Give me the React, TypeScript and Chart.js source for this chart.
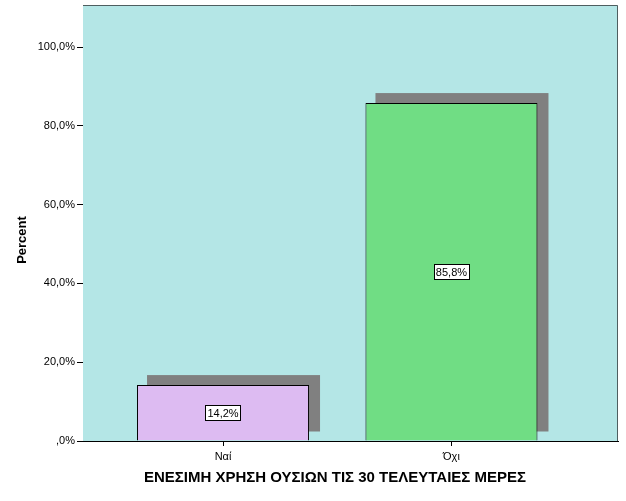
import { useEffect, useRef } from "react";
import { Chart, registerables } from "chart.js";

Chart.register(...registerables);

// --- data ---
const categories = ["Ναί", "Όχι"];
const percents = [14.2, 85.8];
const barColors = ["#DDBBF2", "#70DD84"];

const xTitle = "ΕΝΕΣΙΜΗ ΧΡΗΣΗ ΟΥΣΙΩΝ ΤΙΣ 30 ΤΕΛΕΥΤΑΙΕΣ ΜΕΡΕΣ";
const yTitle = "Percent";

const FONT = "'Liberation Sans', Arial, sans-serif";

const fmtPct = (v: number) =>
  v === 0 ? ",0%" : `${v.toFixed(1).replace(".", ",")}%`;

// background of plot area + shadows behind bars
const backdropPlugin = {
  id: "backdrop",
  beforeDatasetsDraw(chart: any) {
    const { ctx, chartArea } = chart;
    ctx.save();
    ctx.fillStyle = "#B4E6E6";
    ctx.fillRect(
      chartArea.left,
      chartArea.top,
      chartArea.right - chartArea.left,
      chartArea.bottom - chartArea.top
    );
    // shadow: bar rectangle shifted right and up
    ctx.fillStyle = "#808080";
    chart.getDatasetMeta(0).data.forEach((bar: any) => {
      const { x, y, base, width } = bar.getProps(["x", "y", "base", "width"], true);
      ctx.fillRect(x - width / 2 + 10, y - 10, width + 1, base - y + 1);
    });
    ctx.restore();
  },
  afterDatasetsDraw(chart: any) {
    const { ctx, chartArea } = chart;
    ctx.save();
    // top + right frame
    ctx.strokeStyle = "#4E5E60";
    ctx.lineWidth = 1;
    ctx.beginPath();
    ctx.moveTo(chartArea.left, chartArea.top + 0.5);
    ctx.lineTo(chartArea.right - 0.5, chartArea.top + 0.5);
    ctx.lineTo(chartArea.right - 0.5, chartArea.bottom);
    ctx.stroke();

    // boxed value labels in the middle of each bar
    ctx.font = `11px ${FONT}`;
    ctx.textAlign = "center";
    ctx.textBaseline = "middle";
    chart.getDatasetMeta(0).data.forEach((bar: any, i: number) => {
      const { x, y, base } = bar.getProps(["x", "y", "base"], true);
      const txt = fmtPct(percents[i]);
      const w = ctx.measureText(txt).width + 4;
      const h = 15;
      const cy = (y + base) / 2;
      ctx.fillStyle = "#FFFFFF";
      ctx.fillRect(Math.round(x - w / 2) + 0.5, Math.round(cy - h / 2) + 0.5, Math.round(w), h);
      ctx.strokeStyle = "#000000";
      ctx.strokeRect(Math.round(x - w / 2) + 0.5, Math.round(cy - h / 2) + 0.5, Math.round(w), h);
      ctx.fillStyle = "#000000";
      ctx.fillText(txt, x, cy + 1);
    });
    ctx.restore();
  },
  afterDraw(chart: any) {
    const { ctx } = chart;
    ctx.save();
    ctx.fillStyle = "#000000";
    ctx.textAlign = "center";
    ctx.textBaseline = "middle";
    ctx.font = `bold 15px ${FONT}`;
    ctx.fillText(xTitle, 335, 478);
    ctx.translate(22, 240);
    ctx.rotate(-Math.PI / 2);
    ctx.font = `bold 13px ${FONT}`;
    ctx.fillText(yTitle, 0, 0);
    ctx.restore();
  },
};

export default function App() {
  const canvasRef = useRef<HTMLCanvasElement | null>(null);

  useEffect(() => {
    document.body.style.margin = "0";
    const canvas = canvasRef.current;
    if (!canvas) return;

    const chart = new Chart(canvas, {
      type: "bar",
      data: {
        datasets: [
          {
            data: categories.map((_, i) => ({ x: i, y: percents[i] })) as any,
            backgroundColor: barColors,
            borderColor: "#000000",
            borderWidth: 1,
            categoryPercentage: 1,
            barPercentage: 0.753,
          },
        ],
      },
      options: {
        animation: false,
        responsive: true,
        maintainAspectRatio: false,
        layout: { padding: { top: 5, right: 8, left: 0, bottom: 0 } },
        plugins: {
          legend: { display: false },
          tooltip: { enabled: false },
        },
        scales: {
          x: {
            type: "linear",
            offset: false,
            min: -0.613,
            max: 1.729,
            afterBuildTicks: (scale: any) => {
              scale.ticks = categories.map((_, i) => ({ value: i }));
            },
            afterFit: (scale: any) => {
              scale.height = 60;
              scale.paddingLeft = 0;
              scale.paddingRight = 0;
            },
            ticks: {
              callback: (v: any) => categories[v] ?? "",
              color: "#000000",
              font: { family: FONT, size: 11 },
              padding: 4,
              maxRotation: 0,
            },
            grid: {
              offset: false,
              drawOnChartArea: false,
              drawTicks: true,
              tickLength: 5,
              color: "#000000",
            },
            border: { display: true, color: "#000000", width: 1 },
          },
          y: {
            min: 0,
            max: 110.7,
            afterFit: (scale: any) => {
              scale.width = 83;
              scale.paddingTop = 0;
              scale.paddingBottom = 0;
            },
            ticks: {
              stepSize: 20,
              includeBounds: false,
              callback: (v: any) => fmtPct(Number(v)),
              color: "#000000",
              font: { family: FONT, size: 11 },
              padding: 2,
            },
            grid: {
              drawOnChartArea: false,
              drawTicks: true,
              tickLength: 6,
              color: "#000000",
            },
            border: { display: true, color: "#000000", width: 1 },
          },
        },
      },
      plugins: [backdropPlugin],
    });

    return () => {
      chart.destroy();
    };
  }, []);

  return (
    <div style={{ width: 626, height: 501, position: "relative", background: "#FFFFFF" }}>
      <canvas ref={canvasRef}></canvas>
    </div>
  );
}
